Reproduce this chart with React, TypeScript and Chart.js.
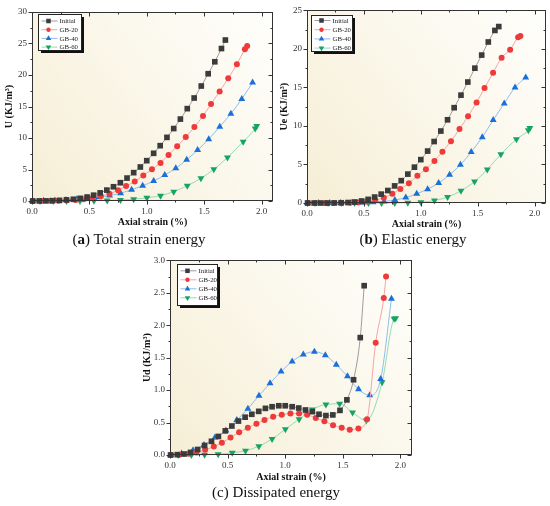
import { useEffect, useRef } from "react";
import { Chart, registerables } from "chart.js";
import { drawPoint } from "chart.js/helpers";

Chart.register(...registerables);

const SERIES_NAMES = ["Initial", "GB-20", "GB-40", "GB-60"];
const X_TICKS = [0, 0.5, 1.0, 1.5, 2.0];
const U_TICKS = [0, 5, 10, 15, 20, 25, 30];
const UE_TICKS = [0, 5, 10, 15, 20, 25];
const UD_TICKS = [0, 0.5, 1.0, 1.5, 2.0, 2.5, 3.0];

// axial strain (%) of every recorded point, per specimen
const STRAIN_INITIAL = [0.005, 0.063, 0.121, 0.179, 0.24, 0.3, 0.36, 0.42, 0.48, 0.537, 0.594, 0.652, 0.71, 0.77, 0.828, 0.886, 0.944, 1.0, 1.06, 1.117, 1.176, 1.235, 1.293, 1.353, 1.413, 1.475, 1.535, 1.593, 1.651, 1.685];
const STRAIN_GB20 = [0.01, 0.08, 0.16, 0.23, 0.305, 0.38, 0.45, 0.525, 0.6, 0.675, 0.75, 0.82, 0.895, 0.97, 1.045, 1.12, 1.19, 1.265, 1.34, 1.415, 1.49, 1.56, 1.635, 1.71, 1.785, 1.855, 1.875];
const STRAIN_GB40 = [0.005, 0.1, 0.2, 0.295, 0.39, 0.485, 0.58, 0.676, 0.772, 0.868, 0.964, 1.06, 1.157, 1.253, 1.348, 1.443, 1.54, 1.636, 1.733, 1.828, 1.922];
const STRAIN_GB60 = [0.07, 0.185, 0.3, 0.418, 0.54, 0.655, 0.771, 0.886, 1.001, 1.12, 1.235, 1.353, 1.472, 1.584, 1.703, 1.84, 1.945, 1.958];

// total strain energy U (kJ/m3)
const U_INITIAL = [0, 0.01, 0.02, 0.05, 0.1, 0.18, 0.27, 0.42, 0.63, 0.92, 1.29, 1.73, 2.26, 2.9, 3.64, 4.5, 5.4, 6.4, 7.57, 8.78, 10.1, 11.5, 13.0, 14.66, 16.35, 18.25, 20.2, 22.1, 24.2, 25.55];
const U_GB20 = [0, 0, 0.02, 0.05, 0.1, 0.16, 0.27, 0.48, 0.76, 1.15, 1.7, 2.38, 3.1, 4.05, 5.03, 6.05, 7.3, 8.7, 10.15, 11.75, 13.5, 15.4, 17.4, 19.47, 21.7, 24.07, 24.6];
const U_GB40 = [0, 0.02, 0.07, 0.15, 0.26, 0.4, 0.6, 0.86, 1.25, 1.78, 2.42, 3.17, 4.13, 5.2, 6.55, 8.08, 9.82, 11.8, 13.86, 16.2, 18.8];
const U_GB60 = [0, 0, 0.005, 0.01, 0.035, 0.07, 0.15, 0.28, 0.5, 0.85, 1.48, 2.43, 3.6, 5.03, 6.9, 9.42, 11.5, 11.9];

// elastic energy Ue (kJ/m3)
const UE_INITIAL = [0, 0, 0, 0, 0.01, 0.03, 0.06, 0.13, 0.26, 0.47, 0.77, 1.15, 1.62, 2.22, 2.9, 3.75, 4.65, 5.63, 6.74, 7.98, 9.34, 10.8, 12.37, 14.0, 15.7, 17.5, 19.2, 20.9, 22.4, 22.9];
const UE_GB20 = [0, 0, 0, 0, 0.01, 0.03, 0.08, 0.2, 0.38, 0.68, 1.19, 1.83, 2.56, 3.54, 4.39, 5.46, 6.66, 8.03, 9.6, 11.27, 13.06, 14.93, 16.9, 18.87, 19.9, 21.5, 21.67];
const UE_GB40 = [0, 0, 0, 0, 0.01, 0.04, 0.1, 0.2, 0.4, 0.7, 1.2, 1.8, 2.6, 3.67, 4.96, 6.62, 8.54, 10.76, 12.93, 15.0, 16.3];
const UE_GB60 = [0, 0, 0, 0, 0, 0, 0.01, 0.03, 0.11, 0.32, 0.77, 1.59, 2.78, 4.35, 6.32, 8.28, 9.44, 9.73];

// dissipated energy Ud (kJ/m3)
const UD_INITIAL = [0, 0.005, 0.015, 0.04, 0.085, 0.146, 0.211, 0.286, 0.372, 0.447, 0.523, 0.583, 0.628, 0.673, 0.719, 0.744, 0.759, 0.759, 0.744, 0.724, 0.694, 0.668, 0.628, 0.608, 0.618, 0.688, 0.85, 1.16, 1.81, 2.61];
const UD_GB20 = [0, 0.005, 0.02, 0.04, 0.08, 0.13, 0.19, 0.27, 0.35, 0.42, 0.48, 0.54, 0.59, 0.62, 0.64, 0.64, 0.62, 0.57, 0.52, 0.46, 0.42, 0.39, 0.41, 0.55, 1.73, 2.42, 2.75];
const UD_GB40 = [0, 0.025, 0.075, 0.156, 0.27, 0.377, 0.538, 0.714, 0.915, 1.106, 1.286, 1.442, 1.548, 1.593, 1.538, 1.392, 1.214, 1.012, 0.921, 1.17, 2.41];
const UD_GB60 = [0, 0, 0.005, 0.01, 0.035, 0.065, 0.136, 0.246, 0.397, 0.553, 0.7, 0.78, 0.79, 0.657, 0.533, 1.12, 2.1, 2.11];

const STRAINS = [STRAIN_INITIAL, STRAIN_GB20, STRAIN_GB40, STRAIN_GB60];

const STYLES = [
  { marker: "#3b3b3b", line: "#9c9c9c", pointStyle: "rect", radius: 4, rotation: 0 },
  { marker: "#ee3a3a", line: "#f5a5a5", pointStyle: "circle", radius: 3, rotation: 0 },
  { marker: "#1a6fd8", line: "#8fbdee", pointStyle: "triangle", radius: 4, rotation: 0 },
  { marker: "#17a462", line: "#95dbb6", pointStyle: "triangle", radius: 4, rotation: 180 },
];

const FONT = "'Liberation Serif', 'Times New Roman', serif";

type LegendBox = { dx: number; dy: number; w: number; h: number; row0: number; gap: number };

type PanelProps = {
  left: number;
  top: number;
  width: number;
  height: number;
  padTop: number;
  padRight: number;
  xAxisH: number;
  yMax: number;
  yTicks: number[];
  yDigits: number;
  yTitle: string;
  ys: number[][];
  legend: LegendBox;
};

function minorOf(ticks: number[], max: number) {
  const step = ticks[1] - ticks[0];
  const out: number[] = [];
  for (const t of ticks) if (t + step / 2 <= max + 1e-9) out.push(t + step / 2);
  return out;
}

function Panel(p: PanelProps) {
  const canvasRef = useRef<HTMLCanvasElement | null>(null);

  useEffect(() => {
    const el = canvasRef.current;
    if (!el) return;

    // cream plot background
    const background = {
      id: "bg",
      beforeDraw: (c: any) => {
        const { ctx, chartArea: a } = c;
        ctx.save();
        const g = ctx.createLinearGradient(a.left, a.bottom, a.right, a.top);
        g.addColorStop(0, "#f6eed5");
        g.addColorStop(0.6, "#fbf8ed");
        g.addColorStop(1, "#fefefb");
        ctx.fillStyle = g;
        ctx.fillRect(a.left, a.top, a.right - a.left, a.bottom - a.top);
        ctx.restore();
      },
    };

    // box frame with major/minor ticks on all four sides
    const frame = {
      id: "frame",
      afterDraw: (c: any) => {
        const { ctx, chartArea: a, scales } = c;
        const L = Math.round(a.left) + 0.5;
        const R = Math.round(a.right) - 0.5;
        const T = Math.round(a.top) + 0.5;
        const B = Math.round(a.bottom) - 0.5;
        ctx.save();
        ctx.strokeStyle = "#333";
        ctx.lineWidth = 1;
        ctx.strokeRect(L, T, R - L, B - T);
        ctx.beginPath();
        const xs = [...X_TICKS.map((v) => [v, 4]), ...minorOf(X_TICKS, 2.1).map((v) => [v, 2])];
        for (const [v, len] of xs) {
          const px = Math.round(scales.x.getPixelForValue(v)) + 0.5;
          ctx.moveTo(px, B);
          ctx.lineTo(px, B + len);
          ctx.moveTo(px, T);
          ctx.lineTo(px, T + len);
        }
        const ysT = [...p.yTicks.map((v) => [v, 4]), ...minorOf(p.yTicks, p.yMax).map((v) => [v, 2])];
        for (const [v, len] of ysT) {
          const py = Math.round(scales.y.getPixelForValue(v)) + 0.5;
          ctx.moveTo(L, py);
          ctx.lineTo(L - len, py);
          ctx.moveTo(R, py);
          ctx.lineTo(R - len, py);
        }
        ctx.stroke();
        ctx.restore();
      },
    };

    // legend with a heavy drop shadow
    const legend = {
      id: "boxLegend",
      afterDraw: (c: any) => {
        const { ctx, chartArea: a } = c;
        const lg = p.legend;
        const x = Math.round(a.left + lg.dx) + 0.5;
        const y = Math.round(a.top + lg.dy) + 0.5;
        ctx.save();
        ctx.fillStyle = "#111";
        ctx.fillRect(x + 2.5, y + 2.5, lg.w, lg.h);
        ctx.fillStyle = "#fff";
        ctx.fillRect(x, y, lg.w, lg.h);
        ctx.strokeStyle = "#222";
        ctx.lineWidth = 1;
        ctx.strokeRect(x, y, lg.w, lg.h);
        ctx.font = `6.8px ${FONT}`;
        ctx.textBaseline = "middle";
        SERIES_NAMES.forEach((name, i) => {
          const s = STYLES[i];
          const ry = y + lg.row0 + i * lg.gap;
          ctx.strokeStyle = s.line;
          ctx.beginPath();
          ctx.moveTo(x + 3, ry);
          ctx.lineTo(x + 19, ry);
          ctx.stroke();
          ctx.fillStyle = s.marker;
          drawPoint(ctx, { pointStyle: s.pointStyle as any, radius: s.radius - 0.8, rotation: s.rotation, borderWidth: 0 }, x + 10, ry);
          ctx.fillStyle = "#222";
          ctx.fillText(name, x + 21, ry + 0.5);
        });
        ctx.restore();
      },
    };

    const chart = new Chart(el, {
      type: "line",
      data: {
        datasets: p.ys.map((vals, i) => ({
          label: SERIES_NAMES[i],
          data: STRAINS[i].map((x, j) => ({ x, y: vals[j] })),
          borderColor: STYLES[i].line,
          borderWidth: 1,
          backgroundColor: STYLES[i].marker,
          pointBackgroundColor: STYLES[i].marker,
          pointBorderColor: STYLES[i].marker,
          pointBorderWidth: 0,
          pointStyle: STYLES[i].pointStyle as any,
          pointRadius: STYLES[i].radius,
          pointRotation: STYLES[i].rotation,
          cubicInterpolationMode: "monotone" as const,
          clip: false as any,
        })),
      },
      options: {
        animation: false,
        responsive: true,
        maintainAspectRatio: false,
        layout: { padding: { top: p.padTop, right: p.padRight, left: 0, bottom: 0 } },
        plugins: { legend: { display: false }, tooltip: { enabled: false } },
        events: [],
        scales: {
          x: {
            type: "linear",
            min: 0,
            max: 2.1,
            grid: { display: false, drawTicks: false, tickLength: 0 },
            border: { display: false },
            afterBuildTicks: (s: any) => {
              s.ticks = X_TICKS.map((value) => ({ value }));
            },
            afterFit: (s: any) => {
              s.height = p.xAxisH;
            },
            ticks: {
              autoSkip: false,
              maxRotation: 0,
              padding: 5,
              color: "#333",
              font: { family: FONT, size: 9 },
              callback: (v: any) => Number(v).toFixed(1),
            },
            title: {
              display: true,
              text: "Axial strain (%)",
              color: "#111",
              font: { family: FONT, size: 10, weight: "bold" },
              padding: { top: 0, bottom: 2 },
            },
          },
          y: {
            type: "linear",
            min: 0,
            max: p.yMax,
            grid: { display: false, drawTicks: false, tickLength: 0 },
            border: { display: false },
            afterBuildTicks: (s: any) => {
              s.ticks = p.yTicks.map((value) => ({ value }));
            },
            afterFit: (s: any) => {
              s.width = 32;
            },
            ticks: {
              autoSkip: false,
              padding: 5,
              color: "#333",
              font: { family: FONT, size: 9 },
              callback: (v: any) => Number(v).toFixed(p.yDigits),
            },
            title: {
              display: true,
              text: p.yTitle,
              color: "#111",
              font: { family: FONT, size: 10, weight: "bold" },
              padding: { top: 3, bottom: 0 },
            },
          },
        },
      },
      plugins: [background, legend, frame],
    });

    return () => chart.destroy();
  }, [p]);

  return (
    <div style={{ position: "absolute", left: p.left, top: p.top, width: p.width, height: p.height }}>
      <canvas ref={canvasRef} />
    </div>
  );
}

const PANEL_A: PanelProps = {
  left: 0, top: 0, width: 280, height: 230, padTop: 12, padRight: 7, xAxisH: 29,
  yMax: 30, yTicks: U_TICKS, yDigits: 0, yTitle: "U (KJ/m³)",
  ys: [U_INITIAL, U_GB20, U_GB40, U_GB60],
  legend: { dx: 6, dy: 2, w: 43, h: 36, row0: 6.5, gap: 8.7 },
};

const PANEL_B: PanelProps = {
  left: 275, top: 0, width: 275, height: 232, padTop: 7, padRight: 2, xAxisH: 29,
  yMax: 25, yTicks: UE_TICKS, yDigits: 0, yTitle: "Ue (KJ/m³)",
  ys: [UE_INITIAL, UE_GB20, UE_GB40, UE_GB60],
  legend: { dx: 4, dy: 5, w: 41, h: 36, row0: 5, gap: 9.2 },
};

const PANEL_C: PanelProps = {
  left: 138, top: 250, width: 280, height: 235, padTop: 7, padRight: 6, xAxisH: 30,
  yMax: 3, yTicks: UD_TICKS, yDigits: 1, yTitle: "Ud (KJ/m³)",
  ys: [UD_INITIAL, UD_GB20, UD_GB40, UD_GB60],
  legend: { dx: 7, dy: 4, w: 40, h: 41, row0: 6.3, gap: 9 },
};

const captionStyle = {
  position: "absolute" as const,
  textAlign: "center" as const,
  font: `15px ${FONT}`,
  color: "#111",
  lineHeight: "17px",
  whiteSpace: "nowrap" as const,
};

export default function App() {
  return (
    <div style={{ position: "absolute", left: 0, top: 0, width: 550, height: 506, background: "#fff", overflow: "hidden" }}>
      <Panel {...PANEL_A} />
      <Panel {...PANEL_B} />
      <Panel {...PANEL_C} />
      <div style={{ ...captionStyle, left: 0, width: 278, top: 231 }}>
        (<b>a</b>) Total strain energy
      </div>
      <div style={{ ...captionStyle, left: 276, width: 274, top: 231 }}>
        (<b>b</b>) Elastic energy
      </div>
      <div style={{ ...captionStyle, left: 126, width: 300, top: 484 }}>
        (c) Dissipated energy
      </div>
    </div>
  );
}
